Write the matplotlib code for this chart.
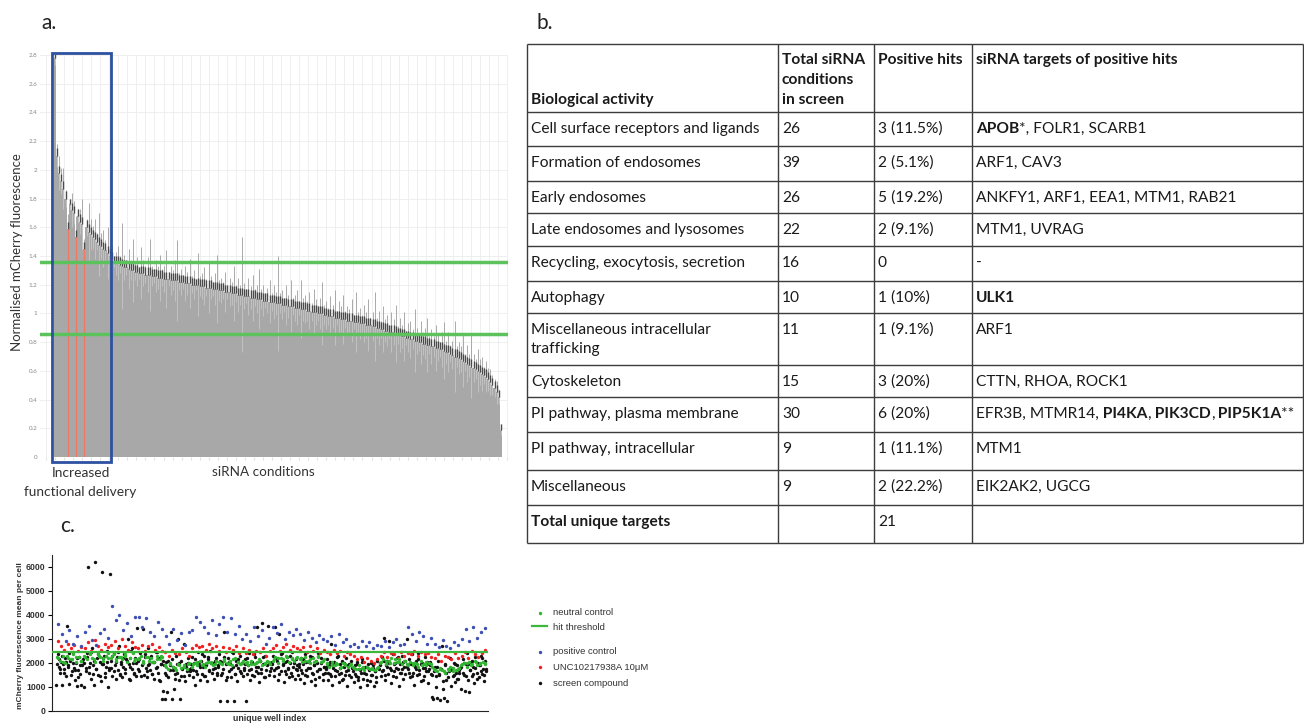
import numpy as np
import matplotlib
matplotlib.use('Agg')
import matplotlib.pyplot as plt
from matplotlib.patches import Rectangle
from matplotlib.ticker import MultipleLocator

plt.rcParams['font.family'] = ['Lato', 'DejaVu Sans']

# ---- panel a: normalised mCherry fluorescence per siRNA condition (sorted) ----
bar_heights = [
    2.78, 2.10, 1.98, 1.92, 1.87, 1.80, 1.59, 1.76, 1.72, 1.70, 1.53, 1.68, 1.64, 1.62, 1.45,
    1.60, 1.57, 1.55, 1.53, 1.52, 1.50, 1.48, 1.47, 1.45, 1.44, 1.42, 1.40, 1.38, 1.36,
    1.35, 1.35, 1.34, 1.33, 1.32, 1.32, 1.31, 1.30, 1.30, 1.29, 1.29, 1.28, 1.28,
    1.28, 1.27, 1.27, 1.27, 1.26, 1.26, 1.26, 1.25, 1.25, 1.25, 1.24, 1.24, 1.24, 1.23, 1.23, 1.23,
    1.23, 1.22, 1.22, 1.22, 1.21, 1.21, 1.21, 1.20, 1.20, 1.20, 1.20, 1.19, 1.19, 1.19, 1.18, 1.18,
    1.18, 1.17, 1.17, 1.17, 1.16, 1.16, 1.16, 1.15, 1.15, 1.15, 1.14, 1.14, 1.14, 1.13, 1.13, 1.13,
    1.12, 1.12, 1.12, 1.11, 1.11, 1.11, 1.10, 1.10, 1.10, 1.09, 1.09, 1.09, 1.08, 1.08, 1.08, 1.07,
    1.07, 1.07, 1.06, 1.06, 1.06, 1.05, 1.05, 1.05, 1.04, 1.04, 1.04, 1.03, 1.03, 1.03, 1.02, 1.02,
    1.01, 1.01, 1.01, 1.00, 1.00, 1.00, 0.99,
    0.99, 0.98, 0.98, 0.98, 0.97, 0.97, 0.97, 0.96, 0.96, 0.96, 0.95, 0.95, 0.95, 0.94, 0.94, 0.94,
    0.93, 0.93, 0.93, 0.92, 0.92, 0.92, 0.91, 0.91,
    0.90, 0.90, 0.89, 0.89, 0.88, 0.88, 0.87, 0.87, 0.87, 0.86,
    0.85, 0.85, 0.84, 0.84, 0.83, 0.83, 0.82, 0.82, 0.81, 0.81, 0.80, 0.80, 0.79, 0.79, 0.78, 0.78,
    0.77, 0.77, 0.76, 0.76, 0.75, 0.75,
    0.74, 0.73, 0.73, 0.72, 0.71, 0.70, 0.70, 0.69, 0.68, 0.67, 0.66,
    0.65, 0.64, 0.63, 0.62, 0.61, 0.60, 0.59, 0.58, 0.57, 0.56,
    0.54, 0.52, 0.50, 0.48, 0.45, 0.42, 0.19,
]
# spread of each condition, in hundredths
bar_errors = [
    5, 8, 12, 9, 14, 6, 10, 4, 12, 8, 15, 5, 9, 18, 7, 6, 20, 11, 8, 14,
    6, 22, 9, 13, 7, 18, 5, 10, 4, 8, 12, 6, 30, 9, 5, 14, 7, 22, 6, 10,
    4, 18, 9, 6, 12, 25, 7, 5, 11, 8, 16, 6, 9, 20, 5, 10, 7, 14, 28, 6,
    9, 5, 12, 8, 17, 6, 10, 4, 22, 7, 9, 13, 6, 18, 8, 5, 11, 24, 7, 9,
    6, 14, 5, 10, 8, 19, 6, 12, 7, 40, 9, 5, 13, 8, 16, 6, 10, 21, 7, 11,
    5, 9, 15, 6, 12, 8, 33, 7, 10, 5, 14, 8, 18, 6, 9, 12, 5, 20, 8, 10,
    7, 13, 6, 16, 9, 5, 11, 22, 7, 10, 6, 14, 8, 19, 5, 12, 9, 17, 6, 10,
    8, 15, 5, 21, 7, 11, 6, 13, 9, 18, 5, 10, 24, 7, 12, 6, 16, 8, 11, 5,
    14, 9, 20, 6, 12, 8, 17, 5, 10, 13, 7, 22, 9, 6, 15, 8, 11, 19, 6, 12,
    7, 16, 9, 5, 12, 20, 8, 14, 6, 10, 25, 7, 11, 9, 18, 6, 13, 8, 22, 10,
    7, 15, 9, 12, 6, 11, 8, 9, 7, 6, 8, 5, 4,
]
hit_bars = [6, 10, 14]
hit_thresholds = [1.355, 0.86]
increased_bars = 27

# ---- panel b: table ----
header = ['Biological activity', 'Total siRNA\nconditions\nin screen', 'Positive hits',
          'siRNA targets of positive hits']
activities = ['Cell surface receptors and ligands', 'Formation of endosomes', 'Early endosomes',
              'Late endosomes and lysosomes', 'Recycling, exocytosis, secretion', 'Autophagy',
              'Miscellaneous intracellular\ntrafficking', 'Cytoskeleton',
              'PI pathway, plasma membrane', 'PI pathway, intracellular', 'Miscellaneous',
              'Total unique targets']
total_conditions = ['26', '39', '26', '22', '16', '10', '11', '15', '30', '9', '9', '']
positive_hits = ['3 (11.5%)', '2 (5.1%)', '5 (19.2%)', '2 (9.1%)', '0', '1 (10%)', '1 (9.1%)',
                 '3 (20%)', '6 (20%)', '1 (11.1%)', '2 (22.2%)', '21']
hit_targets = ['APOB*, FOLR1, SCARB1', 'ARF1, CAV3', 'ANKFY1, ARF1, EEA1, MTM1, RAB21',
               'MTM1, UVRAG', '-', 'ULK1', 'ARF1', 'CTTN, RHOA, ROCK1',
               'EFR3B, MTMR14, PI4KA, PIK3CD, PIP5K1A**', 'MTM1', 'EIK2AK2, UGCG', '']
bold_targets = {'APOB', 'ULK1', 'PI4KA', 'PIK3CD', 'PIP5K1A'}

# ---- panel c: screen, one list per plate (90 wells each), two read-outs per plate ----
screen_compound = [
    [1100, 2350, 1850, 1600, 2050, 1100, 1950, 1750, 2200, 1450, 3550, 1900, 1120, 2100, 1650, 2450, 1800, 1300, 2000, 1050, 1700, 2250, 1550, 1100, 1900],
    [2150, 1000, 1800, 2400, 6000, 1600, 2000, 1350, 2600, 1900, 1100, 6200, 1750, 2200, 1500, 2050, 1250, 5800, 1950, 2300, 1400, 1850, 2500, 1000, 1700],
    [5700, 2100, 1450, 2400, 1900, 1350, 2250, 1700, 2700, 1500, 2050, 1400, 1850, 2350, 1600, 2150, 3000, 1950, 1300, 2500, 1750, 2000, 1550, 2200, 1450],
    [3450, 2100, 1650, 2400, 1900, 3400, 1500, 2250, 1800, 1400, 2600, 1950, 1700, 2300, 1550, 2050, 1350, 2450, 1850, 1600, 2200, 1250, 1950, 500, 850],
    [1900, 500, 1500, 800, 2100, 1700, 3300, 500, 1850, 900, 1350, 2300, 1600, 3000, 2000, 500, 1450, 1800, 2800, 1250, 1950, 1650, 2200, 1500, 1750],
    [1800, 2250, 1400, 2000, 1100, 1650, 2450, 1900, 1300, 2100, 1550, 1850, 2300, 1450, 1950, 1250, 2150, 1700, 2500, 1600, 2000, 1350, 1800, 2200, 1500],
    [1900, 2350, 400, 1500, 2050, 1750, 3300, 1300, 400, 2200, 1650, 1950, 1400, 2450, 1850, 400, 1550, 2100, 1250, 1800, 2300, 1600, 2000, 1450, 1700],
    [2150, 400, 1550, 1900, 2400, 1300, 1750, 2050, 1450, 2250, 1650, 3500, 1850, 1200, 2100, 1600, 3650, 1950, 1400, 2300, 1700, 3550, 1500, 2000, 1800],
    [1950, 2300, 1450, 3500, 1800, 2100, 1300, 3200, 1650, 2400, 1900, 1200, 2050, 1550, 2250, 1750, 1400, 2000, 1600, 2450, 1850, 1350, 2150, 1700, 1500],
    [1850, 1350, 2200, 1600, 1950, 1150, 2350, 1700, 1450, 2050, 1800, 1250, 2250, 1550, 1900, 1100, 2100, 1650, 2400, 1400, 1750, 2000, 1300, 1850, 1600],
    [1750, 2150, 1300, 1900, 1550, 2800, 1100, 1800, 2050, 1450, 1650, 2300, 1200, 1950, 1600, 2100, 1350, 1850, 1500, 2200, 1050, 1700, 1950, 1400, 1800],
    [1650, 1200, 1900, 1450, 2050, 1300, 1750, 1000, 1600, 2150, 1350, 1850, 1550, 1100, 1950, 1700, 1250, 2000, 1500, 1800, 1050, 1650, 1400, 2100, 1750],
    [2000, 1450, 2250, 1700, 3050, 1300, 1900, 2100, 1550, 2900, 1800, 1150, 2350, 1650, 2000, 1400, 2200, 1750, 1050, 1950, 1600, 2300, 1350, 1850, 2100],
    [3000, 1750, 2150, 1400, 1950, 2350, 1600, 1100, 1850, 2100, 1500, 2400, 1700, 1250, 2000, 1800, 1450, 2250, 1650, 1950, 1150, 1750, 2050, 1550, 600],
    [500, 1850, 1000, 550, 2100, 1500, 450, 1750, 2700, 900, 550, 1950, 1300, 400, 1650, 2200, 1050, 1800, 1450, 2000, 1200, 1600, 1900, 1350, 1700],
    [1800, 900, 2150, 1500, 850, 1950, 2400, 1300, 800, 1700, 2050, 1450, 1850, 1150, 2250, 1600, 2000, 1400, 1900, 2300, 1550, 1750, 1250, 2100, 1650],
]
screen_compound_b = [
    [1950, 2150, 1750, 2300, 1600, 2050, 1850, 2400, 1500, 2000, 1700, 2200, 1400, 1900, 2100],
    [2000, 1650, 2250, 1850, 2450, 1550, 2100, 1750, 2350, 1450, 1950, 2200, 1600, 2050, 1800],
    [1800, 2300, 1650, 2050, 2450, 1550, 1950, 2200, 1750, 2100, 1350, 1850, 2600, 1600, 2000],
    [1750, 2150, 1450, 2000, 2350, 1650, 1900, 2200, 1550, 2050, 1800, 2450, 1300, 1950, 2100],
    [1600, 2050, 1400, 1900, 2150, 1700, 1550, 1950, 1300, 2100, 1750, 1450, 1850, 2000, 1650],
    [1950, 1700, 2150, 1550, 2050, 1850, 2350, 1450, 1900, 2250, 1650, 2000, 1750, 2100, 1600],
    [1850, 2100, 1600, 2250, 1950, 1400, 2050, 1750, 2400, 1550, 1900, 2150, 1650, 2000, 1800],
    [1950, 2200, 1700, 2050, 1500, 2350, 1850, 1600, 2100, 1750, 2250, 1400, 1900, 2000, 1650],
    [2050, 1700, 2200, 1850, 1550, 2350, 1950, 1650, 2100, 1800, 2300, 1450, 2000, 1750, 1900],
    [1950, 1700, 2150, 1500, 2050, 1800, 2300, 1600, 1900, 1350, 2000, 1750, 2200, 1550, 1850],
    [1850, 1600, 2050, 1450, 1950, 1700, 2250, 1550, 1800, 1300, 2000, 1650, 1900, 1500, 2100],
    [1800, 1550, 1950, 1400, 1700, 2050, 1600, 1850, 1300, 1750, 1500, 1900, 1650, 1200, 1800],
    [1900, 1650, 2100, 1500, 1850, 2000, 1700, 1450, 1950, 1800, 2250, 1600, 1750, 2050, 1550],
    [1850, 1600, 2000, 1450, 1900, 1750, 2150, 1550, 1950, 1300, 1800, 2050, 1650, 1900, 1500],
    [1650, 1450, 1850, 1550, 1750, 1250, 1900, 1600, 1400, 1800, 1700, 1500, 1950, 1350, 1600],
    [1850, 1600, 2000, 1450, 1950, 1700, 2100, 1550, 1800, 1350, 1900, 1650, 2200, 1500, 1750],
]
neutral_control = [
    [2250, 2100, 2300, 2000, 2200, 2150, 2350, 2050, 2250, 2100],
    [2300, 2150, 2400, 2200, 2050, 2350, 2250, 2100, 2300, 2200],
    [2200, 2350, 2100, 2250, 2150, 2300, 2050, 2200, 2400, 2150],
    [2150, 2300, 2000, 2250, 2100, 2200, 2050, 2300, 2150, 2250],
    [1900, 1750, 2000, 1850, 1700, 1950, 1800, 1900, 1750, 2000],
    [1850, 2000, 1900, 2100, 1950, 1850, 2050, 2000, 1900, 2100],
    [2050, 1950, 2150, 2000, 2100, 1900, 2200, 2050, 1950, 2100],
    [2000, 1900, 2100, 1950, 2050, 2150, 1900, 2000, 2100, 1950],
    [2100, 2250, 2000, 2200, 2150, 2300, 2050, 2200, 2100, 2250],
    [2150, 2050, 2250, 2100, 2000, 2200, 2100, 2300, 2050, 2150],
    [2000, 1850, 2050, 1900, 1950, 1800, 2000, 1900, 1850, 1950],
    [1850, 1750, 1900, 1800, 1700, 1850, 1750, 1800, 1700, 1850],
    [2000, 2150, 1950, 2100, 2200, 2000, 2050, 2150, 1950, 2100],
    [1950, 2050, 1900, 2000, 1850, 2100, 1950, 1900, 2000, 1850],
    [1750, 1650, 1800, 1700, 1600, 1750, 1850, 1650, 1700, 1800],
    [1900, 2000, 1850, 2050, 1950, 2100, 1900, 2000, 2050, 1950],
]
neutral_control_b = [
    [2200, 2050, 2300, 2150, 2250, 2100],
    [2250, 2350, 2150, 2300, 2200, 2400],
    [2300, 2150, 2250, 2350, 2200, 2100],
    [2200, 2100, 2250, 2050, 2150, 2300],
    [1850, 1950, 1800, 1900, 1850, 1950],
    [1950, 2050, 1900, 2000, 2050, 1950],
    [2000, 2100, 1950, 2150, 2050, 2000],
    [2050, 1950, 2000, 2100, 1950, 2050],
    [2150, 2200, 2100, 2250, 2150, 2200],
    [2200, 2100, 2150, 2050, 2250, 2100],
    [1950, 1900, 2000, 1850, 1950, 1900],
    [1800, 1750, 1850, 1800, 1750, 1800],
    [2050, 2100, 2000, 2150, 2050, 2100],
    [1900, 2000, 1950, 1900, 2050, 1950],
    [1700, 1750, 1650, 1700, 1800, 1750],
    [1950, 2000, 1900, 2050, 1950, 2000],
]
unc_compound = [
    [2900, 2700, 2550, 2800, 2600, 2750, 2500, 2650],
    [2600, 2850, 2500, 2950, 2700, 2550, 2800, 2650],
    [2750, 2900, 2600, 3000, 2700, 2550, 2850, 2650],
    [2600, 2750, 2500, 2700, 2800, 2550, 2650, 2500],
    [2450, 2300, 2550, 2400, 2350, 2600, 2450, 2300],
    [2600, 2750, 2650, 2700, 2550, 2800, 2600, 2700],
    [2500, 2650, 2450, 2600, 2550, 2700, 2400, 2600],
    [2400, 2550, 2350, 2500, 2450, 2600, 2300, 2500],
    [2600, 2750, 2500, 2650, 2800, 2550, 2700, 2600],
    [2550, 2650, 2450, 2700, 2500, 2600, 2400, 2550],
    [2450, 2350, 2550, 2400, 2500, 2300, 2450, 2350],
    [2300, 2150, 2250, 2050, 2200, 2100, 2000, 2150],
    [2300, 2450, 2250, 2400, 2350, 2200, 2450, 2300],
    [2400, 2350, 2500, 2300, 2450, 2350, 2400, 2250],
    [2200, 2350, 2100, 2300, 2250, 2150, 2400, 2200],
    [2300, 2450, 2200, 2500, 2350, 2250, 2400, 2550],
]
positive_control = [
    [3600, 3200, 2900, 3350, 2800, 3100, 2700],
    [3300, 3550, 2950, 2750, 3250, 3400, 3050],
    [4350, 3800, 4000, 3350, 3650, 3100, 3900],
    [3900, 3500, 3850, 3300, 3100, 3700, 3400],
    [3100, 2800, 3400, 2950, 3250, 2750, 3300],
    [3350, 3900, 3700, 3500, 3250, 3800, 3150],
    [3600, 3900, 3300, 3850, 3200, 3550, 3000],
    [3200, 2900, 3500, 3100, 3350, 2800, 3050],
    [3500, 3250, 3600, 3000, 3300, 3150, 3400],
    [3200, 2950, 3300, 3050, 2850, 3150, 3000],
    [2900, 3100, 2750, 3200, 2850, 3000, 2700],
    [2800, 2650, 2900, 2700, 2850, 2600, 2750],
    [2700, 2900, 2650, 2850, 3000, 2750, 2800],
    [3500, 3200, 2900, 3300, 3100, 2800, 3050],
    [2800, 2650, 2950, 2700, 2600, 2850, 2750],
    [3000, 3400, 2900, 3500, 3050, 3300, 3450],
]
hit_threshold_c = 2440
PLATE_WELLS = 90

W, H = 1304, 726
fig = plt.figure(figsize=(W / 100, H / 100), dpi=100)


def px_box(x0, y0, x1, y1):
    return [x0 / W, 1 - y1 / H, (x1 - x0) / W, (y1 - y0) / H]


# ================= panel a =================
ax = fig.add_axes(px_box(40, 55, 508, 457))
heights = np.array(bar_heights)
errs = np.array(bar_errors) / 100
idx = np.arange(len(heights))

ax.bar(idx, heights, width=1.0, color='#a8a8a8', linewidth=0, zorder=2)
ax.vlines(idx, heights - errs, heights, colors='#c6c6c6', lw=0.6, zorder=3)
ax.vlines(idx, heights, heights + errs, colors='#9c9c9c', lw=0.6, zorder=3)
ax.vlines(idx, heights, heights + np.minimum(errs, 0.05), colors='#4a4a4a', lw=1.0, zorder=3)
ax.vlines(hit_bars, 0, heights[hit_bars], colors='#ee7a66', lw=1.0, zorder=4)
for t in hit_thresholds:
    ax.axhline(t, color='#5cc25c', lw=2.5, zorder=5)
ax.add_patch(Rectangle((-1.45, -0.035), increased_bars + 1.0, 2.85, fill=False,
                       ec='#2d50a0', lw=2.0, clip_on=False, zorder=6))

ax.set_xlim(-7.13, 215.4)
ax.set_ylim(0, 2.8)
ax.set_yticks(np.arange(0, 2.81, 0.2))
ax.set_yticklabels([f'{v:g}' for v in np.arange(0, 2.81, 0.2).round(1)])
ax.xaxis.set_major_locator(MultipleLocator(4.3))
ax.tick_params(axis='x', length=2, color='#e2e2e2', labelbottom=False)
ax.tick_params(axis='y', length=0, labelsize=4.5, labelcolor='#888888', pad=2)
ax.grid(True, color='#ededed', lw=0.6)
ax.set_axisbelow(True)
for s in ax.spines.values():
    s.set_visible(False)
ax.set_ylabel('Normalised mCherry fluorescence', fontsize=9.5, color='#333333')
ax.yaxis.set_label_coords(-0.036, 0.51)

# ================= panel c =================
axc = fig.add_axes(px_box(52, 554.7, 488, 711))


def plate_xy(*batches):
    xs, ys = [], []
    for plates in batches:
        for k, vals in enumerate(plates):
            n = len(vals)
            for j, v in enumerate(vals):
                xs.append(PLATE_WELLS * k + PLATE_WELLS * (j + 0.5) / n)
                ys.append(v)
    return xs, ys


bx, by = plate_xy(screen_compound, screen_compound_b)
rx, ry = plate_xy(unc_compound)
px_, py_ = plate_xy(positive_control)
gx, gy = plate_xy(neutral_control, neutral_control_b)
h_black = axc.scatter(bx, by, s=6, c='#111111', linewidths=0, zorder=2)
h_red = axc.scatter(rx, ry, s=6, c='#f02020', linewidths=0, zorder=3)
h_blue = axc.scatter(px_, py_, s=6, c='#3d4fb5', linewidths=0, zorder=3)
h_green = axc.scatter(gx, gy, s=6, c='#2fb52f', linewidths=0, zorder=4)
h_thr = axc.axhline(hit_threshold_c, color='#3cb83c', lw=1.6, zorder=5)

n_wells = PLATE_WELLS * len(screen_compound)
axc.set_xlim(-13, n_wells + 4)
axc.set_ylim(0, 6500)
axc.set_yticks(range(0, 6001, 1000))
axc.set_xticks([])
for s in ['top', 'right']:
    axc.spines[s].set_visible(False)
for s in ['left', 'bottom']:
    axc.spines[s].set_linewidth(0.8)
    axc.spines[s].set_color('#222222')
axc.tick_params(axis='y', length=3, width=0.8, pad=1.5, labelsize=6.3)
for lab in axc.get_yticklabels():
    lab.set_fontfamily('Liberation Sans')
    lab.set_fontweight('bold')
    lab.set_color('#333333')
axc.set_ylabel('mCherry fluorescence mean per cell', fontsize=6, fontweight='bold',
               family='Liberation Sans', color='#333333')
axc.yaxis.set_label_coords(-0.064, 0.48)
axc.set_xlabel('unique well index', fontsize=6.3, fontweight='bold',
               family='Liberation Sans', color='#333333', labelpad=2)

leg_kw = dict(loc='upper left', frameon=False, handlelength=1.6, handletextpad=0.6,
              borderpad=0, borderaxespad=0, scatterpoints=1, labelcolor='#333333',
              prop={'family': 'Liberation Sans', 'size': 6.8})
fig.legend([h_green, h_thr], ['neutral control', 'hit threshold'],
           bbox_to_anchor=(532 / W, 1 - 608 / H), labelspacing=0.6, **leg_kw)
fig.legend([h_blue, h_red, h_black], ['positive control', 'UNC10217938A 10\u03bcM', 'screen compound'],
           bbox_to_anchor=(532 / W, 1 - 647 / H), labelspacing=0.72, **leg_kw)

# ================= overlay: labels and table b =================
ov = fig.add_axes([0, 0, 1, 1])
ov.set_xlim(0, W)
ov.set_ylim(H, 0)
ov.axis('off')

ov.text(41, 29, 'a.', fontsize=15, color='#222222', va='baseline')
ov.text(537, 29, 'b.', fontsize=15, color='#222222', va='baseline')
ov.text(60, 532, 'c.', fontsize=15, color='#222222', va='baseline')
ov.text(81, 473, 'Increased', fontsize=9.9, color='#333333', ha='center', va='center')
ov.text(80, 492, 'functional delivery', fontsize=9.9, color='#333333', ha='center', va='center')
ov.text(263, 472, 'siRNA conditions', fontsize=9.7, color='#333333', ha='center', va='center')

col_x = [527, 778, 874, 972, 1303]
row_y = [44, 112, 146, 181, 213, 246, 281, 313, 365, 397, 432, 470, 505, 543]
ov.hlines(row_y, col_x[0], col_x[-1], colors='#3c3c3c', lw=1.0)
ov.vlines(col_x, row_y[0], row_y[-1], colors='#3c3c3c', lw=1.0)

TFS = 11.2
pad = 4
line_pitch = 19
txt_kw = dict(fontsize=TFS, color='#1a1a1a', va='center', ha='left')

# header
ov.text(col_x[0] + pad, 100, header[0], fontweight='bold', **txt_kw)
for c in range(1, 4):
    for i, line in enumerate(header[c].split('\n')):
        ov.text(col_x[c] + pad, 60 + 20 * i, line, fontweight='bold', **txt_kw)


def target_segments(s):
    toks = s.split(', ') if s else []
    segs = []
    for i, tok in enumerate(toks):
        name = tok.rstrip('*')
        stars = tok[len(name):]
        lead = ' ' if i > 0 else ''
        segs.append((lead + name, name in bold_targets))
        tail = stars + (',' if i < len(toks) - 1 else '')
        if tail:
            segs.append((tail, False))
    merged = []
    for t, b in segs:
        if merged and merged[-1][1] == b:
            merged[-1] = (merged[-1][0] + t, b)
        else:
            merged.append((t, b))
    return merged


for r in range(len(activities)):
    yc = row_y[r + 1] + 17
    last = r == len(activities) - 1
    for i, line in enumerate(activities[r].split('\n')):
        ov.text(col_x[0] + pad, yc + line_pitch * i, line,
                fontweight='bold' if last else 'normal', **txt_kw)
    ov.text(col_x[1] + pad, yc, total_conditions[r], **txt_kw)
    ov.text(col_x[2] + pad, yc, positive_hits[r], **txt_kw)
    prev = None
    for t, b in target_segments(hit_targets[r]):
        w = 'bold' if b else 'normal'
        if prev is None:
            prev = ov.text(col_x[3] + pad, yc, t, fontweight=w, **txt_kw)
        else:
            prev = ov.annotate(t, xy=(1, 0), xycoords=prev, va='bottom', ha='left',
                               fontsize=TFS, color='#1a1a1a', fontweight=w)

fig.savefig('out.png', dpi=100)
